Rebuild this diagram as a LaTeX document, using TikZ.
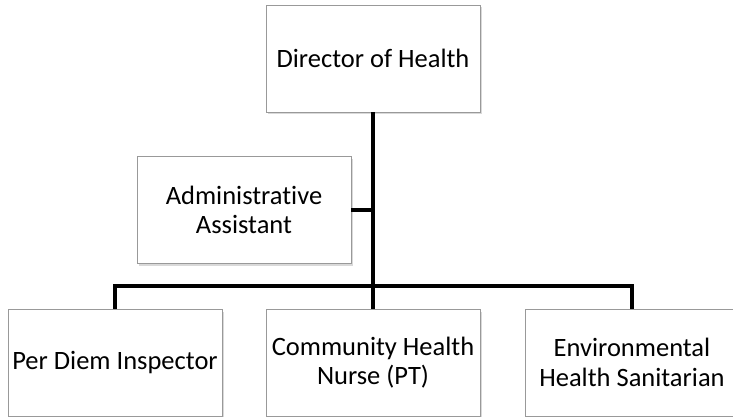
\documentclass[tikz,border=0pt]{standalone}
\usepackage{fontspec}
\setmainfont[Ligatures=NoCommon]{Carlito}
\usetikzlibrary{shadows}

\begin{document}
\begin{tikzpicture}[x=1pt, y=-1pt,
    box/.style={draw=gray!80, fill=white, line width=0.8pt, minimum width=214pt, minimum height=107pt, align=center, font=\fontsize{26.5}{29.5}\selectfont, drop shadow={shadow xshift=1.5pt, shadow yshift=-2.5pt, opacity=0.3}},
    link/.style={line width=4.5pt, line join=miter}]
    \useasboundingbox (0,0) rectangle (733,417);
    \node[box] (director) at (373,58.5) {Director of Health};
    \node[box] (admin) at (244,210) {Administrative\\Assistant};
    \node[box] (inspector) at (115,362.5) {Per Diem Inspector};
    \node[box] (nurse) at (373,362.5) {Community Health\\Nurse (PT)};
    \node[box] (sanitarian) at (632,362.5) {Environmental\\Health Sanitarian};
    \coordinate (bus) at (373,286);
    \draw[link] (director.south) -- (bus);
    \draw[link] (admin.east) -- (admin.east -| director.south);
    \draw[link] (inspector.north) |- (bus) -| (sanitarian.north);
    \draw[link] (bus) -- (nurse.north);
\end{tikzpicture}
\end{document}
